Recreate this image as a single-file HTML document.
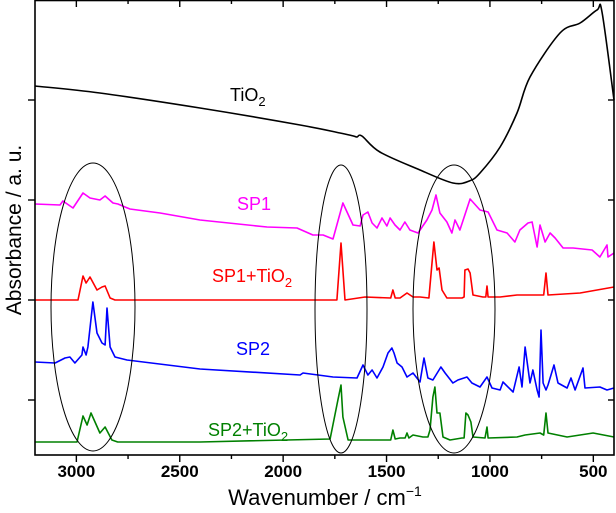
<!DOCTYPE html>
<html><head><meta charset="utf-8">
<style>
html,body{margin:0;padding:0;background:#fff;}
svg{display:block;font-family:"Liberation Sans",Arial,sans-serif;}
.tl{font-weight:700;}
</style></head>
<body>
<svg id="chart" width="616" height="513" viewBox="0 0 616 513" xmlns="http://www.w3.org/2000/svg"></svg>
<script>
// ---- data ----
const xTicksMajor = [3000, 2500, 2000, 1500, 1000, 500];
const xTicksMinor = [3000, 2750, 2500, 2250, 2000, 1750, 1500, 1250, 1000, 750, 500];
const yTicks = [55, 155, 255, 355];

const tio2Wn = [3200,2886,2402,1918,1725,1660,1643,1619,1532,1338,1179,1100,1048,951,869,806,661,564,482,458,400];
const tio2Abs = [369,362,347,330,322,319,318,319,303,285,272,274,282,308,342,378,422,432,445,443,355];

const sp1Wn = [3200,3079,3065,3016,2968,2934,2886,2861,2823,2799,2741,2595,2402,2078,1933,1856,1807,1759,1711,1662,1628,1614,1590,1570,1546,1522,1498,1483,1459,1435,1411,1387,1348,1305,1280,1261,1242,1208,1184,1169,1145,1096,1048,1009,966,917,879,855,816,796,772,758,733,709,685,646,598,506,468,434,429,400];
const sp1Abs = [251,250,254,247,262,257,255,259,252,251,246,242,235,228,227,220,220,216,252,230,229,240,243,232,227,237,229,237,230,225,233,225,222,235,245,260,242,233,222,235,225,256,245,243,225,222,213,225,232,233,208,230,213,222,217,207,207,205,198,210,198,202];

const sp1tWn = [3200,2992,2968,2953,2934,2900,2876,2861,2837,2813,1740,1720,1701,1604,1480,1469,1458,1435,1401,1372,1338,1295,1280,1271,1256,1246,1232,1208,1135,1125,1121,1106,1096,1082,1034,1020,1014,1009,951,869,767,740,729,719,564,400];
const sp1tAbs = [155,155,179,172,178,165,168,169,157,155,155,212,155,158,157,165,157,157,162,158,158,157,192,213,185,187,165,157,157,158,185,186,182,160,158,158,169,158,158,160,160,160,182,160,162,168];

const sp2Wn = [3200,3103,3055,3031,3007,2973,2968,2953,2944,2920,2900,2876,2861,2852,2837,2813,2755,2402,1918,1904,1759,1643,1614,1590,1570,1546,1517,1493,1474,1464,1449,1425,1401,1372,1338,1319,1300,1276,1237,1217,1179,1155,1111,1087,1048,1014,990,951,937,888,859,845,830,806,792,772,762,753,743,729,719,690,671,627,608,588,550,540,468,434,400];
const sp2Abs = [93,92,97,98,92,100,108,100,108,153,122,112,110,147,108,98,95,86,80,82,78,77,90,80,85,77,88,102,107,102,92,88,78,82,73,97,77,75,88,82,72,75,78,72,68,78,67,65,73,63,88,68,108,72,85,65,58,125,72,65,70,90,72,67,77,65,87,67,68,65,67];

const sp2tWn = [3200,2997,2968,2948,2929,2886,2861,2828,2800,2402,1773,1735,1720,1711,1686,1580,1480,1469,1458,1435,1410,1401,1392,1372,1324,1300,1290,1276,1266,1256,1242,1227,1193,1135,1125,1116,1106,1092,1082,1024,1014,1009,869,830,758,740,729,719,627,501,400];
const sp2tAbs = [13,13,39,30,42,22,28,15,13,13,16,55,70,38,15,15,15,25,16,17,17,22,17,20,18,18,25,58,68,42,42,18,15,17,17,42,40,33,18,17,28,17,18,20,22,20,42,22,18,22,18];

// ---- scales ----
const L=35, R=614, T=0, B=455;
function xs(w){ return L + (3200 - w) * (R - L) / 2800; }
function ys(v){ return B - v * (B - T) / 455; }

const svg = document.getElementById('chart');
const NS = 'http://www.w3.org/2000/svg';
function mk(tag, attrs, parent){
  const e = document.createElementNS(NS, tag);
  for (const k in attrs) e.setAttribute(k, attrs[k]);
  (parent || svg).appendChild(e);
  return e;
}

function series(wn, ab, color, name, smooth){
  const pts = wn.map((w,i)=>[xs(w), ys(ab[i])]);
  let d = 'M' + pts[0][0].toFixed(1) + ',' + pts[0][1].toFixed(1);
  for (let i=1;i<pts.length;i++){
    if (smooth){
      const p0 = pts[Math.max(0,i-2)], p1 = pts[i-1], p2 = pts[i], p3 = pts[Math.min(pts.length-1,i+1)];
      const c1x = p1[0] + (p2[0]-p0[0])/6, c1y = p1[1] + (p2[1]-p0[1])/6;
      const c2x = p2[0] - (p3[0]-p1[0])/6, c2y = p2[1] - (p3[1]-p1[1])/6;
      d += 'C' + c1x.toFixed(1)+','+c1y.toFixed(1)+' '+c2x.toFixed(1)+','+c2y.toFixed(1)+' '+p2[0].toFixed(1)+','+p2[1].toFixed(1);
    } else {
      d += 'L' + pts[i][0].toFixed(1) + ',' + pts[i][1].toFixed(1);
    }
  }
  const p = mk('path', {d:d, fill:'none', stroke:color, 'stroke-width':1.6, 'stroke-linejoin':'round'});
  
  
}
series(tio2Wn, tio2Abs, '#000', 'tio2-line', true);
series(sp1Wn, sp1Abs, '#ff00ff', 'sp1-line', false);
series(sp1tWn, sp1tAbs, '#ff0000', 'sp1-tio2-line', false);
series(sp2Wn, sp2Abs, '#0000ff', 'sp2-line', false);
series(sp2tWn, sp2tAbs, '#008000', 'sp2-tio2-line', false);

const ell = [[93,307,42,144,'ch-stretch-ellipse'],[341,309,26,144,'carbonyl-ellipse'],[454,309,41,144,'fingerprint-ellipse']];
ell.forEach(e=>{
  const el = mk('ellipse',{cx:e[0],cy:e[1],rx:e[2],ry:e[3],fill:'none',stroke:'#000','stroke-width':1});
  
  
});

const frame = mk('rect',{x:L,y:T+0.5,width:R-L,height:B-T-0.5,fill:'none',stroke:'#000','stroke-width':1.6});



xTicksMinor.forEach(w=>{
  const major = xTicksMajor.indexOf(w) >= 0;
  const len = major ? 7 : 4;
  const t1 = mk('line',{x1:xs(w),x2:xs(w),y1:B,y2:B+len,stroke:'#000','stroke-width':1.4});
  
  
  const t2 = mk('line',{x1:xs(w),x2:xs(w),y1:T,y2:T+len,stroke:'#000','stroke-width':1.4});
  
  
});
xTicksMajor.forEach(w=>{
  const t = mk('text',{x:xs(w),y:477,'text-anchor':'middle','font-size':17,'class':'tl',fill:'#000'});
  t.textContent = w;
  
  
});
yTicks.forEach(v=>{
  const a = mk('line',{x1:L-7,x2:L,y1:ys(v),y2:ys(v),stroke:'#000','stroke-width':1.4});
  
  
  const b = mk('line',{x1:R-6,x2:R,y1:ys(v),y2:ys(v),stroke:'#000','stroke-width':1.4});
  
  
});

function label(txt, sub, x, y, color, name){
  const t = mk('text',{x:x,y:y,'font-size':18,fill:color});
  
  
  t.appendChild(document.createTextNode(txt));
  if (sub){
    const s = mk('tspan',{dy:5,'font-size':13},t);
    s.textContent = sub;
  }
}
label('TiO','2',230,101,'#000','tio2-label');
label('SP1',null,237,210,'#ff00ff','sp1-label');
label('SP1+TiO','2',212,282,'#ff0000','sp1-tio2-label');
label('SP2',null,236,355,'#0000ff','sp2-label');
label('SP2+TiO','2',208,436,'#008000','sp2-tio2-label');

const xt = mk('text',{x:325,y:505,'text-anchor':'middle','font-size':22,fill:'#000'});


xt.appendChild(document.createTextNode('Wavenumber / cm'));
const sup = mk('tspan',{dy:-9,'font-size':14},xt); sup.textContent='\u22121';

const yt = mk('text',{x:0,y:0,'text-anchor':'middle','font-size':21,fill:'#000',transform:'translate(21,230) rotate(-90)'});


yt.textContent='Absorbance / a. u.';
</script>
</body></html>
